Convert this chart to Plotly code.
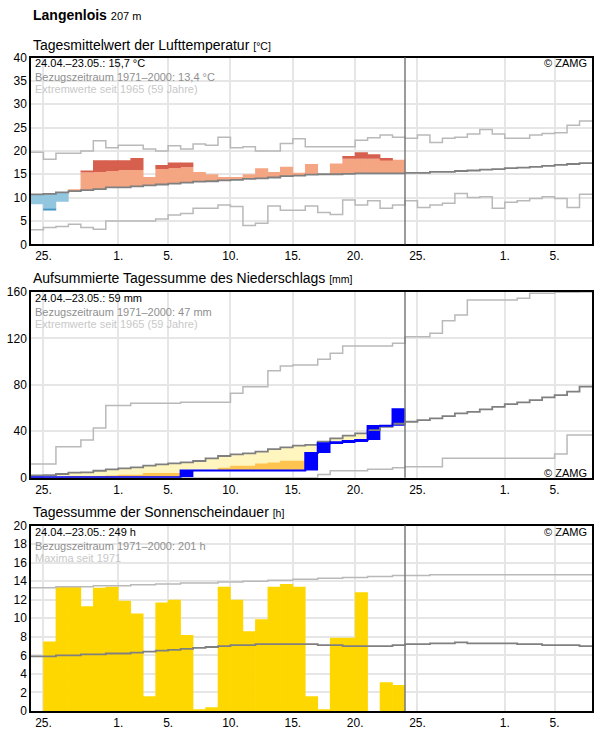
import numpy as np
import pandas as pd
import plotly.graph_objects as go
from plotly.subplots import make_subplots

# ------------------------------------------------------------------ data
START = "2024-04-24"
N_CLIM = 45
days = pd.date_range(START, periods=N_CLIM, freq="D")
DAY = pd.Timedelta(days=1)

tick_dates = ["2024-04-25", "2024-05-01", "2024-05-05", "2024-05-10", "2024-05-15",
              "2024-05-20", "2024-05-25", "2024-06-01", "2024-06-05"]
tick_labels = ["25.", "1.", "5.", "10.", "15.", "20.", "25.", "1.", "5."]

# Temperature (°C), observed days 24.04.-23.05.
temp_obs = [8.6, 7.3, 9.1, 11.8, 15.6, 18.0, 18.0, 18.0, 18.5, 14.4,
            17.0, 17.5, 17.5, 15.5, 15.0, 14.4, 14.4, 15.0, 16.3, 15.5,
            16.6, 15.3, 17.2, 15.0, 17.3, 18.9, 19.7, 19.3, 18.5, 18.1]
temp_upper = [14.3, 14.4, 14.6, 15.0, 15.4, 15.5, 15.7, 15.9, 15.9, 16.0,
              16.1, 16.3, 16.5, 16.6, 16.8, 16.9, 17.0, 17.2, 17.3, 17.5,
              17.6, 17.8, 17.9, 18.0, 18.1, 18.3, 18.3, 18.3, 18.1, 18.4]
temp_lower = [7.4, 7.6, 7.9, 8.1, 8.3, 8.5, 8.8, 8.9, 9.1, 9.3,
              9.5, 9.7, 9.9, 10.1, 10.2, 10.4, 10.5, 10.7, 10.8, 11.0,
              11.2, 11.4, 11.5, 11.6, 11.7, 11.8, 11.9, 12.0, 12.0, 12.1]
temp_mean = [10.7, 10.8, 11.1, 11.4, 11.6, 11.8, 12.2, 12.2, 12.4, 12.6,
             12.8, 13.0, 13.2, 13.4, 13.5, 13.7, 13.8, 14.0, 14.1, 14.3,
             14.6, 14.7, 14.9, 15.0, 15.0, 15.1, 15.2, 15.2, 15.2, 15.2,
             15.3, 15.3, 15.5, 15.5, 15.7, 15.8, 16.0, 16.1, 16.3, 16.4,
             16.6, 16.8, 17.0, 17.2, 17.4]
temp_max = [19.7, 18.2, 19.5, 19.5, 20.0, 22.2, 20.7, 21.2, 21.2, 20.4,
            20.0, 21.1, 20.4, 21.5, 21.2, 22.9, 20.7, 20.9, 20.0, 20.0,
            21.6, 22.6, 20.9, 20.9, 20.9, 20.9, 22.3, 22.8, 23.4, 22.9,
            22.7, 23.4, 21.8, 22.7, 22.9, 23.6, 24.6, 23.6, 22.7, 22.7,
            23.4, 23.7, 23.9, 25.5, 26.4]
temp_min = [3.1, 3.6, 3.8, 4.3, 3.6, 3.2, 5.0, 5.0, 5.0, 5.0,
            5.4, 6.3, 6.6, 7.7, 7.7, 8.4, 8.1, 4.0, 4.5, 8.2,
            7.3, 7.3, 8.2, 6.8, 6.4, 9.5, 8.4, 9.3, 7.7, 8.4,
            9.3, 7.9, 8.4, 8.8, 10.9, 10.0, 10.2, 7.7, 9.0, 9.3,
            9.8, 10.2, 9.8, 7.9, 10.7]

# Precipitation (mm): daily sums observed, cumulative climatology
prec_daily = [0.3, 0.0, 0.0, 0.0, 0.0, 0.0, 0.0, 0.0, 0.0, 0.0,
              0.0, 0.0, 6.0, 0.0, 0.0, 0.0, 0.0, 0.0, 0.0, 0.0,
              0.0, 0.0, 15.0, 8.3, 0.9, 1.1, 0.9, 12.0, 0.3, 14.2]
prec_dry = [0.3, 0.4, 0.5, 0.7, 1.0, 1.4, 2.0, 2.5, 2.5, 4.0,
            4.0, 4.0, 5.0, 6.0, 6.3, 8.6, 10.3, 10.3, 12.3, 13.2,
            14.6, 14.6, 16.0, 17.0, 18.0, 19.0, 20.0, 22.0, 23.0, 25.0]
prec_mean = [2.0, 2.3, 3.2, 4.3, 4.6, 6.0, 7.2, 8.0, 8.9, 10.4,
             11.5, 12.4, 13.2, 14.4, 16.7, 18.7, 20.1, 21.0, 22.4, 24.7,
             26.2, 27.6, 28.2, 31.1, 33.9, 36.2, 38.2, 41.0, 43.8, 46.5,
             48.2, 49.6, 51.1, 53.1, 55.4, 56.8, 58.8, 61.1, 63.4, 64.9,
             66.9, 69.2, 71.2, 74.1, 78.4]
prec_max = [11.8, 11.8, 26.7, 26.7, 32.5, 42.8, 62.3, 62.3, 64.1, 64.1,
            64.1, 64.1, 65.0, 65.0, 65.0, 65.0, 72.7, 78.4, 78.4, 92.2,
            96.2, 97.1, 97.1, 102.0, 107.2, 113.5, 113.5, 113.5, 113.5, 115.8,
            121.5, 121.5, 124.4, 135.3, 140.2, 153.1, 153.1, 153.1, 153.1, 154.6,
            158.9, 158.9, 159.7, 159.7, 160.0]
prec_min = [0.0, 0.0, 0.0, 0.0, 0.0, 0.0, 0.0, 0.0, 0.0, 0.0,
            0.0, 0.0, 0.0, 0.0, 0.0, 0.0, 0.0, 0.0, 0.0, 0.0,
            0.0, 0.0, 0.0, 2.7, 6.0, 6.0, 6.0, 7.2, 7.2, 8.6,
            9.5, 9.5, 9.5, 16.7, 16.7, 16.7, 16.7, 16.7, 16.7, 16.7,
            16.7, 16.7, 20.4, 36.8, 36.8]

# Sunshine duration (h)
sun_obs = [0.0, 7.5, 13.4, 13.4, 11.3, 13.3, 13.4, 11.9, 10.5, 1.6,
           11.7, 12.0, 8.2, 0.2, 0.4, 13.4, 12.0, 8.6, 9.9, 13.4,
           13.7, 13.4, 1.6, 0.2, 7.9, 7.9, 12.8, 0.0, 3.1, 2.8]
sun_mean = [5.9, 5.9, 6.0, 6.0, 6.1, 6.1, 6.2, 6.2, 6.3, 6.4,
            6.5, 6.6, 6.7, 6.8, 6.9, 7.0, 7.1, 7.1, 7.2, 7.2,
            7.2, 7.2, 7.2, 7.1, 7.1, 7.0, 7.0, 7.0, 7.0, 7.1,
            7.2, 7.2, 7.3, 7.3, 7.4, 7.3, 7.3, 7.3, 7.3, 7.2,
            7.2, 7.1, 7.1, 7.1, 7.0]
sun_max = [13.3, 13.3, 13.4, 13.4, 13.4, 13.5, 13.5, 13.5, 13.6, 13.6,
           13.7, 13.7, 13.8, 13.8, 13.8, 13.9, 13.9, 14.0, 14.0, 14.1,
           14.1, 14.2, 14.2, 14.3, 14.3, 14.4, 14.4, 14.5, 14.5, 14.6,
           14.6, 14.6, 14.7, 14.7, 14.7, 14.7, 14.7, 14.7, 14.7, 14.7,
           14.7, 14.7, 14.7, 14.7, 14.7]

station_title = "<b>Langenlois</b> <span style='font-size:11px'>207 m</span>"
panel_titles = ["Tagesmittelwert der Lufttemperatur", "Aufsummierte Tagessumme des Niederschlags",
                "Tagessumme der Sonnenscheindauer"]
panel_units = ["[°C]", "[mm]", "[h]"]
info_lines = [
    ["24.04.–23.05.: 15,7 °C", "Bezugszeitraum 1971–2000: 13,4 °C", "Extremwerte seit 1965 (59 Jahre)"],
    ["24.04.–23.05.: 59 mm", "Bezugszeitraum 1971–2000: 47 mm", "Extremwerte seit 1965 (59 Jahre)"],
    ["24.04.–23.05.: 249 h", "Bezugszeitraum 1971–2000: 201 h", "Maxima seit 1971"],
]
y_ranges = [(0, 40, 5), (0, 160, 40), (0, 20, 2)]

# ------------------------------------------------------------------ styles
FONT = "Liberation Sans, Arial, sans-serif"
W, H = 596, 729
ML, MR = 31, 4
panel_px = [(57.5, 244.3), (292.0, 477.7), (525.5, 711.0)]  # top, bottom
title_px = [45.0, 278.5, 512.0]
C_MEAN = "#808080"
C_EXT = "#b9b9b9"
C_GRID = "#e6e6e6"
info_colors = ["#000000", "#8f8f8f", "#c8c8c8"]

n_obs = len(temp_obs)
obs_days = days[:n_obs]
centers = obs_days + pd.Timedelta(hours=12)
bar_w = DAY.total_seconds() * 1000 * 1.05  # slight overlap avoids anti-alias seams


def step_xy(vals):
    x = list(days[:len(vals)]) + [days[len(vals) - 1] + DAY]
    return x, list(vals) + [vals[-1]]


def step_trace(vals, color, width):
    x, y = step_xy(vals)
    return go.Scatter(x=x, y=y, mode="lines", line=dict(shape="hv", color=color, width=width),
                      hoverinfo="skip", showlegend=False)


def bar_trace(base, height, color):
    h = np.where(np.asarray(height) > 0, height, np.nan)
    return go.Bar(x=centers, y=h, base=base, width=bar_w,
                  marker=dict(color=color, line=dict(width=0)), hoverinfo="skip", showlegend=False)


fig = make_subplots(rows=3, cols=1)

# ---- temperature
t = np.array(temp_obs)
m = np.array(temp_mean[:n_obs])
u = np.array(temp_upper)
lo = np.array(temp_lower)
fig.add_trace(bar_trace(m, np.clip(np.minimum(t, u) - m, 0, None), "#f4a582"), 1, 1)
fig.add_trace(bar_trace(u, np.clip(t - u, 0, None), "#d6604d"), 1, 1)
fig.add_trace(bar_trace(np.maximum(t, lo), np.clip(m - np.maximum(t, lo), 0, None), "#92c5de"), 1, 1)
fig.add_trace(bar_trace(t, np.clip(np.minimum(m, lo) - t, 0, None), "#4393c3"), 1, 1)
fig.add_trace(step_trace(temp_max, C_EXT, 1.5), 1, 1)
fig.add_trace(step_trace(temp_min, C_EXT, 1.5), 1, 1)
fig.add_trace(step_trace(temp_mean, C_MEAN, 1.8), 1, 1)

# ---- precipitation
d = np.array(prec_daily)
cum = np.cumsum(d)
prev = cum - d
pm = np.array(prec_mean[:n_obs])
dry = np.array(prec_dry)
fig.add_trace(bar_trace(cum, np.clip(pm - cum, 0, None), "#fff6bf"), 2, 1)
fig.add_trace(bar_trace(cum, np.clip(np.minimum(dry, pm) - cum, 0, None), "#fec44f"), 2, 1)
fig.add_trace(step_trace(prec_max, C_EXT, 1.5), 2, 1)
fig.add_trace(step_trace(prec_min, C_EXT, 1.5), 2, 1)
fig.add_trace(step_trace(prec_mean, C_MEAN, 1.8), 2, 1)
fig.add_trace(bar_trace(prev, d, "#0000ff"), 2, 1)
fig.add_trace(step_trace(list(cum), "#0000ff", 2), 2, 1)

# ---- sunshine
fig.add_trace(bar_trace(np.zeros(n_obs), np.array(sun_obs), "#ffd700"), 3, 1)
fig.add_trace(step_trace(sun_max, C_EXT, 1.5), 3, 1)
fig.add_trace(step_trace(sun_mean, C_MEAN, 1.8), 3, 1)

annotations = [dict(text=station_title, x=0, xref="paper", xanchor="left",
                    y=1 - 15 / H, yref="paper", yanchor="middle", showarrow=False,
                    font=dict(family=FONT, size=14, color="#000"))]

for i in range(3):
    r = i + 1
    top, bot = panel_px[i]
    xa = "xaxis" if r == 1 else f"xaxis{r}"
    ya = "yaxis" if r == 1 else f"yaxis{r}"
    suffix = "" if r == 1 else str(r)
    y0, y1, dt = y_ranges[i]
    fig.layout[ya].update(domain=[1 - bot / H, 1 - top / H], range=[y0, y1], dtick=dt,
                          tick0=0, showgrid=True, gridcolor=C_GRID, gridwidth=1.5,
                          zeroline=False, showline=True, mirror=True, linecolor="#000",
                          linewidth=1.5, ticks="", automargin=False,
                          tickfont=dict(family=FONT, size=12, color="#000"))
    fig.layout[xa].update(domain=[0, 1], type="date",
                          range=[days[0], days[-1] + DAY],
                          tickvals=tick_dates, ticktext=tick_labels,
                          showgrid=True, gridcolor=C_GRID, gridwidth=1.5, zeroline=False,
                          showline=True, mirror=True, linecolor="#000", linewidth=1.5,
                          ticks="", automargin=False,
                          tickfont=dict(family=FONT, size=12, color="#000"))
    # vertical line marking end of observation period
    fig.add_shape(type="line", x0=days[n_obs], x1=days[n_obs], y0=0, y1=1,
                  xref="x" + suffix, yref=f"y{suffix} domain",
                  line=dict(color="#7a7a7a", width=1.5), layer="above")
    # panel title
    annotations.append(dict(
        text=f"{panel_titles[i]} <span style='font-size:10.5px'>{panel_units[i]}</span>",
        x=0, xref="paper", xanchor="left", y=1 - title_px[i] / H, yref="paper",
        yanchor="middle", showarrow=False, font=dict(family=FONT, size=14, color="#000")))
    # info lines
    for k, (line, col) in enumerate(zip(info_lines[i], info_colors)):
        annotations.append(dict(
            text=line, x=0, xref=f"x{suffix} domain", xanchor="left", xshift=2,
            y=1, yref=f"y{suffix} domain", yanchor="top", yshift=[2, -12, -24][k],
            showarrow=False, font=dict(family=FONT, size=11, color=col)))
    # copyright
    if r == 2:
        annotations.append(dict(text="© ZAMG", x=1, xref=f"x{suffix} domain", xanchor="right",
                                xshift=-3, y=0, yref=f"y{suffix} domain", yanchor="bottom",
                                yshift=-3, showarrow=False,
                                font=dict(family=FONT, size=11, color="#000")))
    else:
        annotations.append(dict(text="© ZAMG", x=1, xref=f"x{suffix} domain", xanchor="right",
                                xshift=-3, y=1, yref=f"y{suffix} domain", yanchor="top",
                                yshift=2, showarrow=False,
                                font=dict(family=FONT, size=11, color="#000")))

fig.update_layout(
    width=W, height=H, margin=dict(l=ML, r=MR, t=0, b=0, pad=0),
    template="none", paper_bgcolor="white", plot_bgcolor="white",
    barmode="overlay", showlegend=False, annotations=annotations,
    font=dict(family=FONT, size=12, color="#000"),
)

fig.write_html("out.html")
